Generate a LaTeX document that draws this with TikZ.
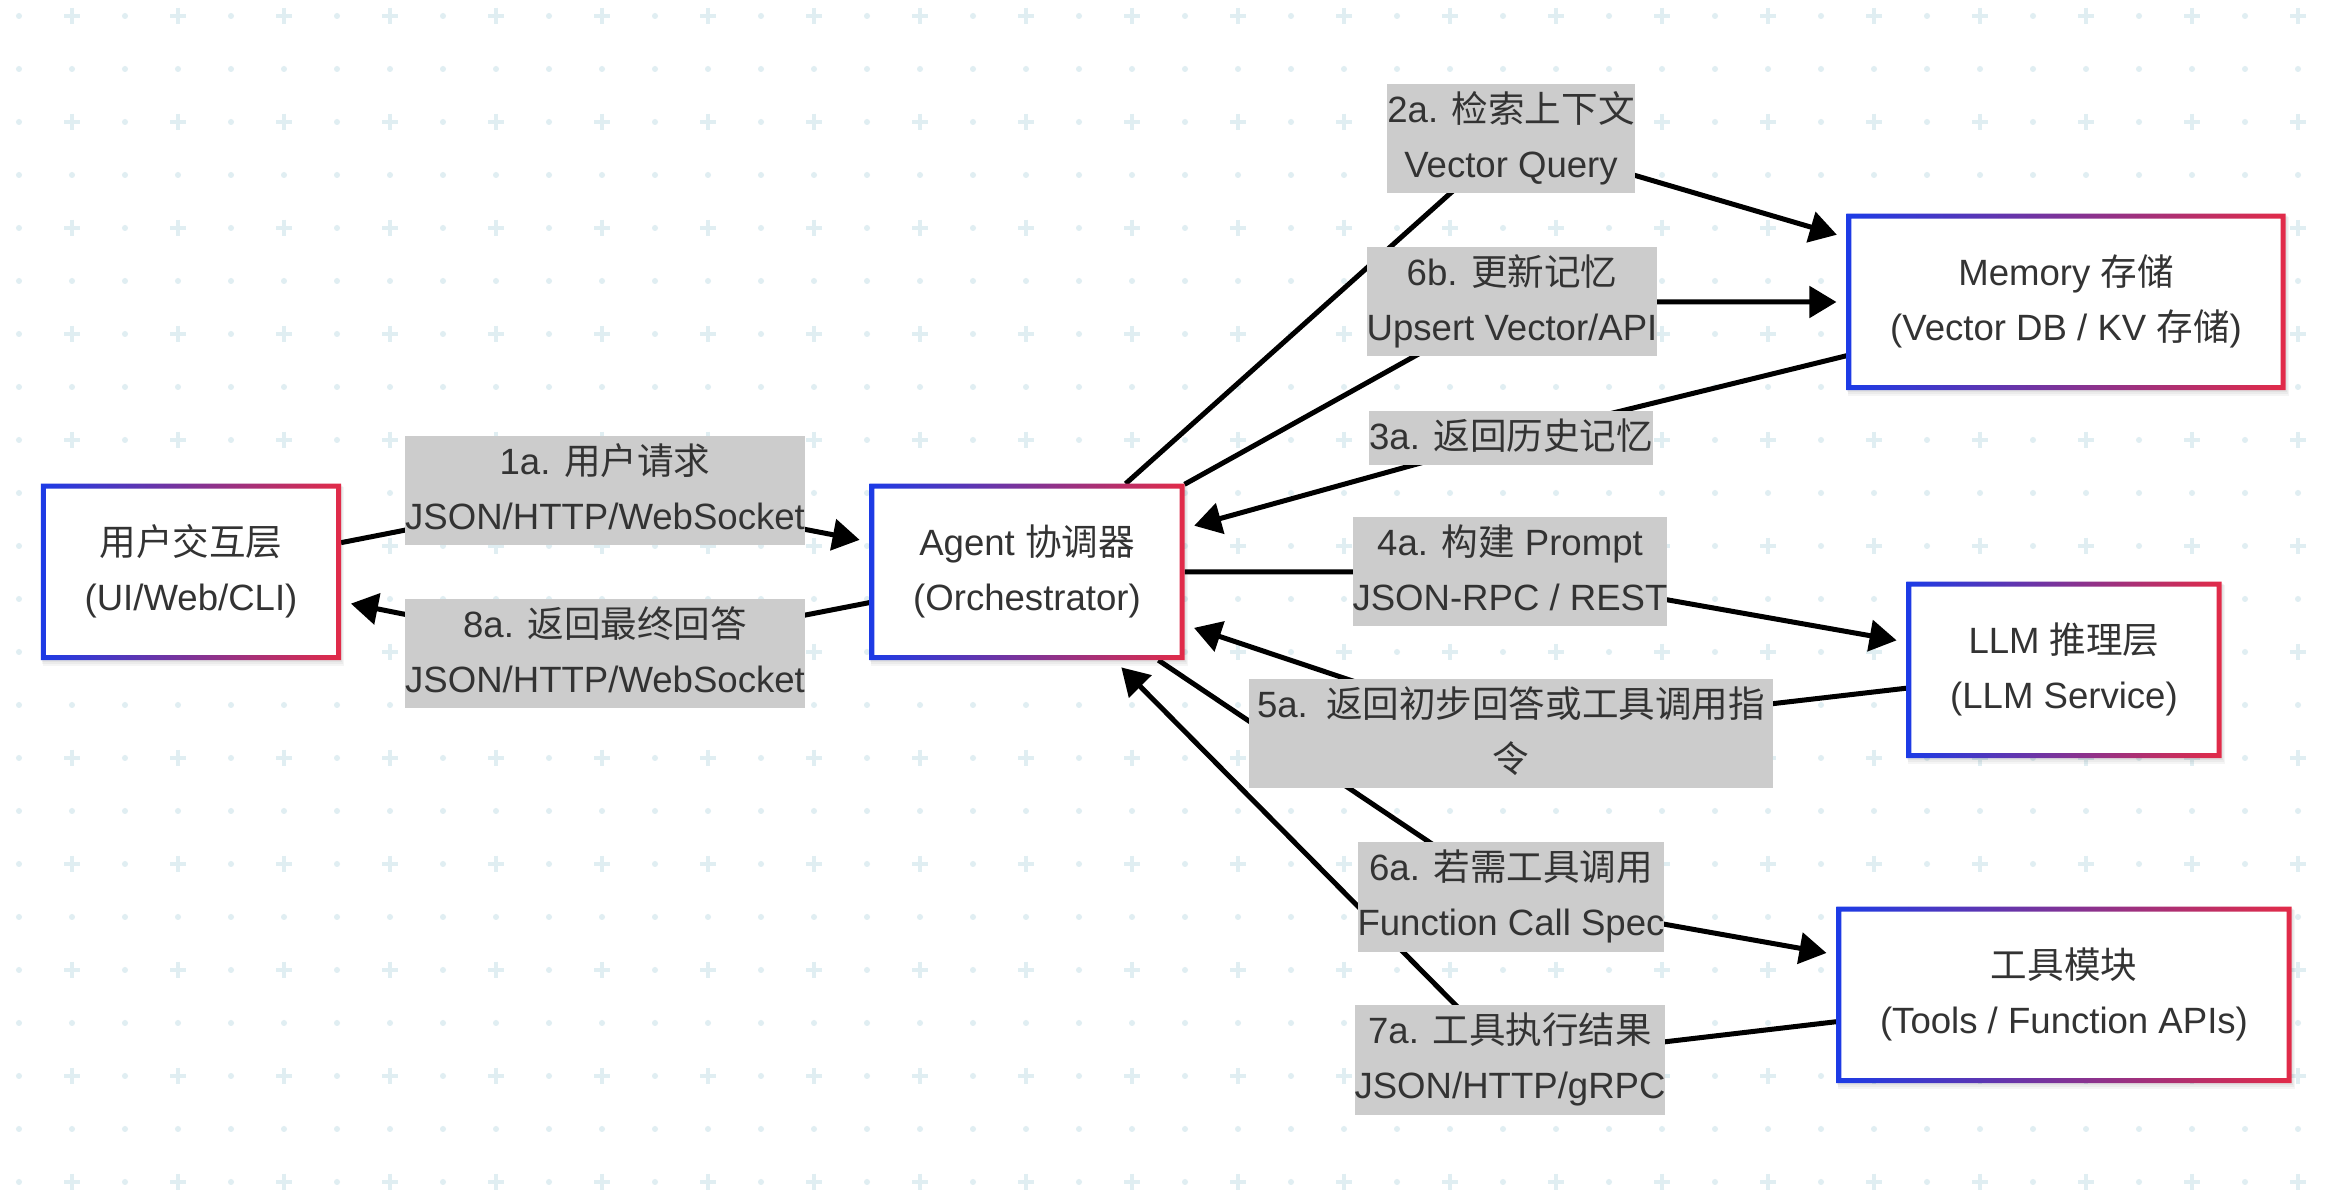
\documentclass[tikz,border=0pt]{standalone}
\usepackage{fontspec}
\setmainfont{Liberation Sans}
\newfontfamily\cjk{Noto Sans CJK SC}
\usetikzlibrary{arrows.meta}
\pgfdeclarelayer{bg}
\pgfdeclarelayer{edges}
\pgfsetlayers{bg,edges,main}
\definecolor{txt}{HTML}{333333}
\definecolor{lblgray}{HTML}{CCCCCC}
\definecolor{gridc}{HTML}{E0EEF2}
\definecolor{bordblue}{HTML}{1C3BE6}
\definecolor{bordred}{HTML}{E22B48}
\newcommand\ls{\rule[-4.6pt]{0pt}{15.5pt}}

\begin{document}
\begin{tikzpicture}[x=0.01cm,y=-0.01cm,
  comp/.style={fill=white, text=txt, align=center, inner xsep=0.43cm, inner ysep=0pt,
    minimum height=1.75cm, font=\fontsize{10.4}{15.5}\selectfont},
  msg/.style={fill=lblgray, text=txt, align=center, inner sep=0pt,
    font=\fontsize{10.4}{15.5}\selectfont},
  flow/.style={line width=0.05cm, -{Triangle[length=0.27cm,width=0.31cm]}, shorten >=0.1cm}]
\useasboundingbox (0,0) rectangle (2332,1198);

\node[comp] (user) at (191,572) {\ls{\cjk 用户交互层}\\\ls(UI/Web/CLI)};
\node[comp] (agent) at (1027,572) {\ls Agent {\cjk 协调器}\\\ls(Orchestrator)};
\node[comp] (mem) at (2066,302) {\ls Memory {\cjk 存储}\\\ls(Vector DB / KV {\cjk 存储})};
\node[comp] (llm) at (2064,670) {\ls LLM {\cjk 推理层}\\\ls(LLM Service)};
\node[comp] (tool) at (2064,995) {\ls{\cjk 工具模块}\\\ls(Tools / Function APIs)};

\foreach \n in {user,agent,mem,llm,tool}
  \shade[even odd rule, left color=bordblue, right color=bordred]
    (\n.south west) rectangle (\n.north east)
    ([shift={(5,-5)}]\n.south west) rectangle ([shift={(-5,5)}]\n.north east);

\node[msg] (l1a) at (605,491) {\ls 1a. {\cjk 用户请求}\\\ls JSON/HTTP/WebSocket};
\node[msg] (l8a) at (605,654) {\ls 8a. {\cjk 返回最终回答}\\\ls JSON/HTTP/WebSocket};
\node[msg] (l2a) at (1511,139) {\ls 2a. {\cjk 检索上下文}\\\ls Vector Query};
\node[msg] (l6b) at (1512,302) {\ls 6b. {\cjk 更新记忆}\\\ls Upsert Vector/API};
\node[msg] (l3a) at (1511,438) {\ls 3a. {\cjk 返回历史记忆}};
\node[msg] (l4a) at (1510,572) {\ls 4a. {\cjk 构建} Prompt\\\ls JSON-RPC / REST};
\node[msg, text width=5.24cm] (l5a) at (1511,734) {\ls 5a. {\cjk 返回初步回答或工具调用指}\\\ls{\cjk 令}};
\node[msg] (l6a) at (1511,897) {\ls 6a. {\cjk 若需工具调用}\\\ls Function Call Spec};
\node[msg] (l7a) at (1510,1060) {\ls 7a. {\cjk 工具执行结果}\\\ls JSON/HTTP/gRPC};

\begin{pgfonlayer}{bg}
\fill[white] (0,0) rectangle (2332,1198);
\foreach \i in {0,...,43}
  \foreach \j in {0,...,22}{
    \ifodd\i \ifodd\j \fill[gridc] (19+53*\i,16+53*\j) circle[radius=0.03cm];
      \else \draw[gridc,line width=0.04cm] (11+53*\i,16+53*\j) -- (27+53*\i,16+53*\j)
        (19+53*\i,8+53*\j) -- (19+53*\i,24+53*\j);
      \fi
    \else \fill[gridc] (19+53*\i,16+53*\j) circle[radius=0.03cm];
    \fi
  }
\foreach \n in {user,agent,mem,llm,tool}
  \foreach \k in {2,4,6}
    \fill[black,opacity=0.04] ([shift={(\k/3,\k)}]\n.south west) rectangle ([shift={(\k/2,\k/2)}]\n.north east);
\end{pgfonlayer}

\begin{pgfonlayer}{edges}
\draw[flow] (user) -- (l1a.center) -- (agent);
\draw[flow] (agent) -- (l8a.center) -- (user);
\draw[flow] (agent) -- (l2a.center) -- (mem);
\draw[flow] (mem) -- (l3a.center) -- (agent);
\draw[flow] (agent) -- (l4a.center) -- (llm);
\draw[flow] (llm) -- (l5a.center) -- (agent);
\draw[flow] (agent) -- (l6a.center) -- (tool);
\draw[flow] (agent) -- (l6b.center) -- (mem);
\draw[flow] (tool) -- (l7a.center) -- (agent);
\end{pgfonlayer}
\end{tikzpicture}
\end{document}
